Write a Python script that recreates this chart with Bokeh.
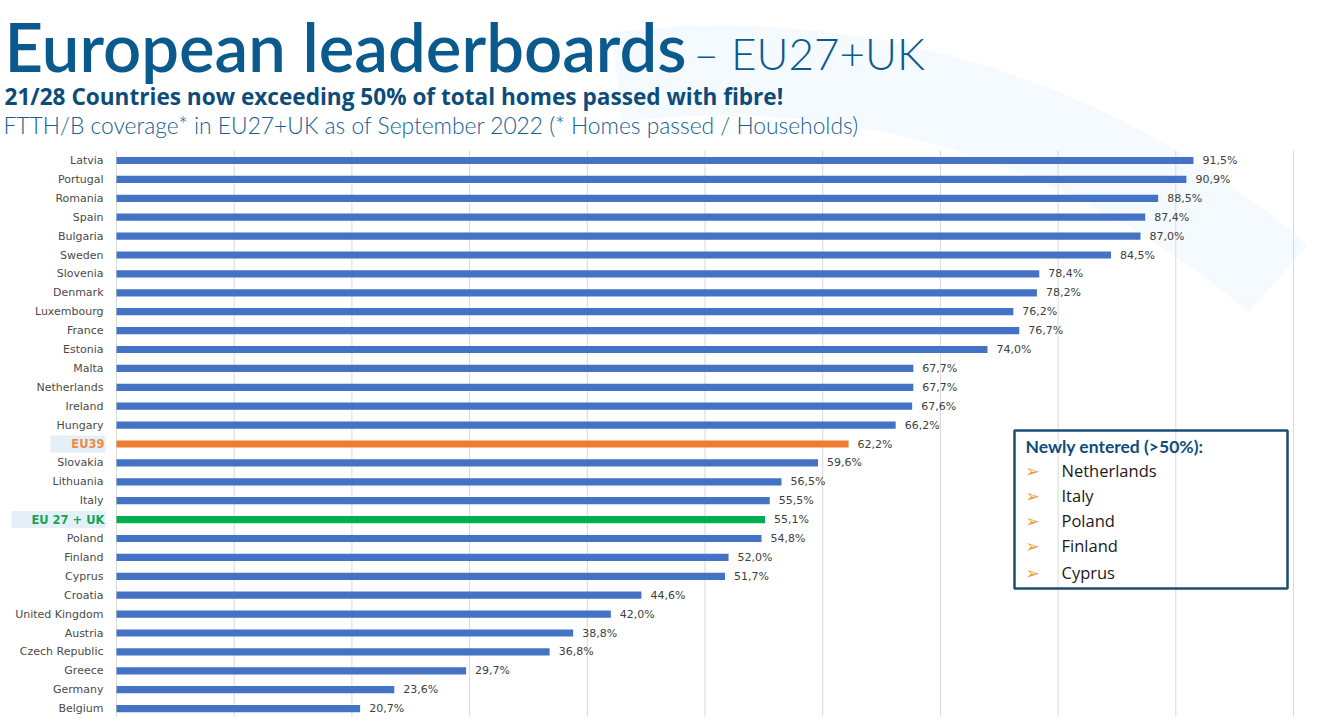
import math
from bokeh.plotting import figure
from bokeh.models import Range1d
from bokeh.core.properties import value
from bokeh.embed import file_html
from bokeh.resources import INLINE

# ---------------- data ----------------
countries = ["Latvia", "Portugal", "Romania", "Spain", "Bulgaria", "Sweden",
             "Slovenia", "Denmark", "Luxembourg", "France", "Estonia", "Malta",
             "Netherlands", "Ireland", "Hungary", "EU39", "Slovakia", "Lithuania",
             "Italy", "EU 27 + UK", "Poland", "Finland", "Cyprus", "Croatia",
             "United Kingdom", "Austria", "Czech Republic", "Greece", "Germany",
             "Belgium"]
coverage = [91.5, 90.9, 88.5, 87.4, 87.0, 84.5, 78.4, 78.2, 76.2, 76.7, 74.0,
            67.7, 67.7, 67.6, 66.2, 62.2, 59.6, 56.5, 55.5, 55.1, 54.8, 52.0,
            51.7, 44.6, 42.0, 38.8, 36.8, 29.7, 23.6, 20.7]
aggregate_colors = {"EU39": "#ED7D31", "EU 27 + UK": "#00B050"}
aggregate_text_colors = {"EU39": "#F08A3E", "EU 27 + UK": "#1BA34F"}
newly_entered = ["Netherlands", "Italy", "Poland", "Finland", "Cyprus"]
grid_ticks = list(range(0, 101, 10))

title_main = "European leaderboards"
title_tail = "\u2013 EU27+UK"
subtitle = "21/28 Countries now exceeding 50% of total homes passed with fibre!"
note = "FTTH/B coverage* in EU27+UK as of September 2022 (* Homes passed / Households)"
legend_title = "Newly entered (>50%):"

# ---------------- layout helpers ----------------
W, H = 1325, 722
X0_PX = 116.0       # pixel of 0 %
PX_PER_PCT = 11.77  # pixels per percentage point
ROW0_PX = 160.0     # pixel centre of first row
ROW_PX = 18.9       # row spacing


def xd(px):
    return (px - X0_PX) / PX_PER_PCT


def yd(py):
    return (py - ROW0_PX) / ROW_PX


p = figure(width=W, height=H,
           x_range=Range1d(xd(0), xd(W)), y_range=Range1d(yd(H), yd(0)),
           output_backend="svg", toolbar_location=None,
           x_axis_location=None, y_axis_location=None,
           min_border=0, outline_line_color=None)
p.grid.visible = False
p.background_fill_color = "white"
p.border_fill_color = "white"

# decorative swoosh
p.annular_wedge(x=xd(720), y=yd(920), inner_radius=805, outer_radius=895,
                inner_radius_units="screen", outer_radius_units="screen",
                start_angle=math.radians(49), end_angle=math.radians(97),
                color="#F5FAFE", line_color=None)

# grid lines
p.segment(x0=grid_ticks, x1=grid_ticks, y0=yd(150), y1=yd(716),
          line_color="#D9D9D9", line_width=1)

idx = list(range(len(countries)))
bar_colors = [aggregate_colors.get(c, "#4472C4") for c in countries]
p.hbar(y=idx, left=0, right=coverage, height=0.38, fill_color=bar_colors,
       line_color=None)

# highlight boxes behind aggregate labels
agg_idx = [i for i, c in enumerate(countries) if c in aggregate_colors]
box_left_px = {"EU39": 50, "EU 27 + UK": 11}
p.quad(left=[xd(box_left_px[countries[i]]) for i in agg_idx],
       right=[xd(105) for i in agg_idx],
       top=[i - 0.45 for i in agg_idx], bottom=[i + 0.45 for i in agg_idx],
       fill_color="#E3F0FA", line_color=None)

# category labels
norm_idx = [i for i, c in enumerate(countries) if c not in aggregate_colors]
p.text(x=0, y=norm_idx, text=[countries[i] for i in norm_idx],
       x_offset=-13, text_align="right", text_baseline="middle",
       text_font=value("DejaVu Sans"), text_font_size=value("11px"),
       text_color="#4A4A4A")
p.text(x=0, y=agg_idx, text=[countries[i] for i in agg_idx],
       x_offset=-12, text_align="right", text_baseline="middle",
       text_font=value("DejaVu Sans"), text_font_size=value("11.5px"),
       text_font_style="bold",
       text_color=[aggregate_text_colors[countries[i]] for i in agg_idx])

# value labels
labels = [f"{v:.1f}%".replace(".", ",") for v in coverage]
p.text(x=coverage, y=idx, text=labels, x_offset=9, text_align="left",
       text_baseline="middle", text_font=value("DejaVu Sans"),
       text_font_size=value("11px"), text_color="#404040")

# titles (y positions are for the text middle)
p.text(x=[xd(4)], y=[yd(45)], text=[title_main], text_font=value("Lato Semibold"),
       text_font_size=value("67px"), text_color="#0B5A8E",
       text_baseline="middle")
p.text(x=[xd(693)], y=[yd(52)], text=[title_tail], text_font=value("Lato Light"),
       text_font_size=value("44px"), text_color="#0B5A8E",
       text_baseline="middle")
p.text(x=[xd(4)], y=[yd(96)], text=[subtitle], text_font=value("Open Sans"),
       text_font_style="bold", text_font_size=value("22.6px"),
       text_color="#0D4C7A", text_baseline="middle")
p.text(x=[xd(3)], y=[yd(124)], text=[note], text_font=value("Lato Light"),
       text_font_size=value("22.8px"), text_color="#175E92",
       text_baseline="middle")

# legend box
p.quad(left=[xd(1014)], right=[xd(1287)], top=[yd(430)], bottom=[yd(588)],
       fill_color=None, line_color="#1C4E73", line_width=2.5)
p.text(x=[xd(1025)], y=[yd(446)], text=[legend_title], text_font=value("Lato"),
       text_font_style="bold", text_font_size=value("17.5px"),
       text_color="#0F4C7E", text_baseline="middle")
item_px = [470, 495, 520, 545, 572]
p.text(x=[xd(1025)] * len(newly_entered), y=[yd(v) for v in item_px],
       text=["\u27A2"] * len(newly_entered), text_font=value("DejaVu Sans"),
       text_font_size=value("17px"), text_color="#F29A38",
       text_baseline="middle")
p.text(x=[xd(1061)] * len(newly_entered), y=[yd(v) for v in item_px],
       text=newly_entered, text_font=value("Open Sans"),
       text_font_size=value("16.5px"), text_color="#1A1A1A",
       text_baseline="middle")

open("out.html", "w").write(file_html(p, INLINE))
